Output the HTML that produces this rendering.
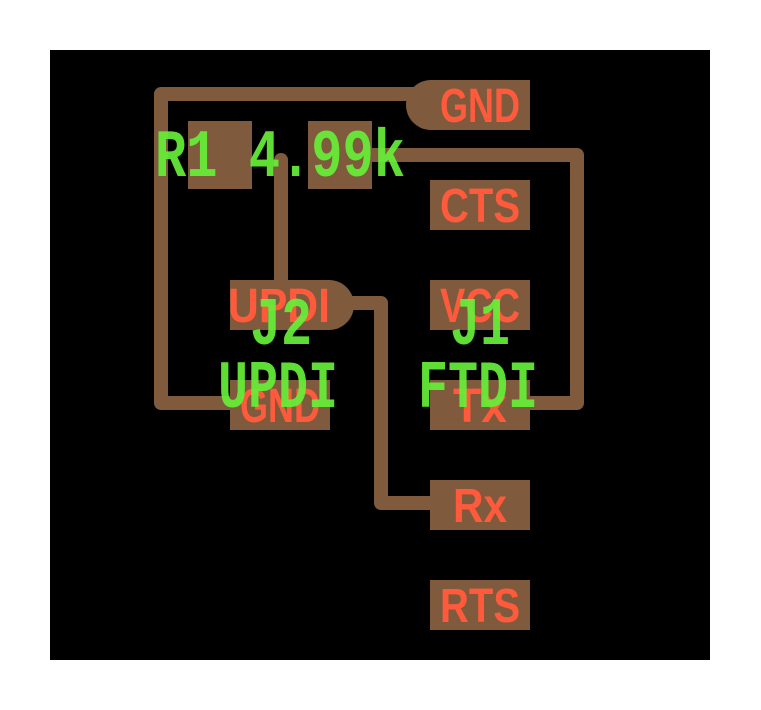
<!DOCTYPE html>
<html><head><style>html,body{margin:0;padding:0;background:#fff;}svg{display:block}</style></head>
<body>
<svg width="761" height="710" viewBox="0 0 761 710" xmlns="http://www.w3.org/2000/svg">
<rect x="0" y="0" width="761" height="710" fill="#fff"/>
<rect x="50" y="50" width="660" height="610" fill="#000"/>
<g fill="none" stroke="#7f5a3c" stroke-width="14" stroke-linejoin="round" stroke-linecap="round">
<polyline points="420,94 161,94 161,403 232,403"/>
<polyline points="281,160 281,282"/>
<polyline points="372,155 577,155 577,403 528,403"/>
<polyline points="350,303 381,303 381,503 432,503"/>
</g>
<g fill="#7f5a3c">
<rect x="430" y="80" width="100" height="50"/>
<rect x="406" y="80" width="60" height="50" rx="25"/>
<rect x="188" y="121" width="64" height="68"/>
<rect x="308" y="121" width="64" height="68"/>
<rect x="430" y="180" width="100" height="50"/>
<rect x="430" y="280" width="100" height="50"/>
<rect x="430" y="380" width="100" height="50"/>
<rect x="430" y="480" width="100" height="50"/>
<rect x="430" y="580" width="100" height="50"/>
<rect x="230" y="280" width="100" height="50"/>
<rect x="294" y="280" width="60" height="50" rx="25"/>
<rect x="230" y="380" width="100" height="50"/>
</g>
<g fill="#ff5a3c" font-family="Liberation Sans, sans-serif" font-weight="bold" font-size="48">
<text x="440" y="122" textLength="80" lengthAdjust="spacingAndGlyphs">GND</text>
<text x="440" y="222" textLength="80" lengthAdjust="spacingAndGlyphs">CTS</text>
<text x="440" y="322" textLength="80" lengthAdjust="spacingAndGlyphs">VCC</text>
<text x="453" y="422" textLength="54" lengthAdjust="spacingAndGlyphs">Tx</text>
<text x="453" y="522" textLength="54" lengthAdjust="spacingAndGlyphs">Rx</text>
<text x="440" y="622" textLength="80" lengthAdjust="spacingAndGlyphs">RTS</text>
<text x="228" y="322" textLength="102" lengthAdjust="spacingAndGlyphs">UPDI</text>
<text x="240" y="422" textLength="80" lengthAdjust="spacingAndGlyphs">GND</text>
</g>
<g fill="#66f03a" fill-opacity="0.92" font-family="Liberation Mono, monospace" font-weight="bold" font-size="68">
<text x="155" y="176" textLength="250" lengthAdjust="spacingAndGlyphs">R1 4.99k</text>
<text x="250" y="344" textLength="62" lengthAdjust="spacingAndGlyphs">J2</text>
<text x="218" y="407" textLength="120" lengthAdjust="spacingAndGlyphs">UPDI</text>
<text x="450" y="344" textLength="60" lengthAdjust="spacingAndGlyphs">J1</text>
<text x="418" y="407" textLength="120" lengthAdjust="spacingAndGlyphs">FTDI</text>
</g>
</svg>
</body></html>
